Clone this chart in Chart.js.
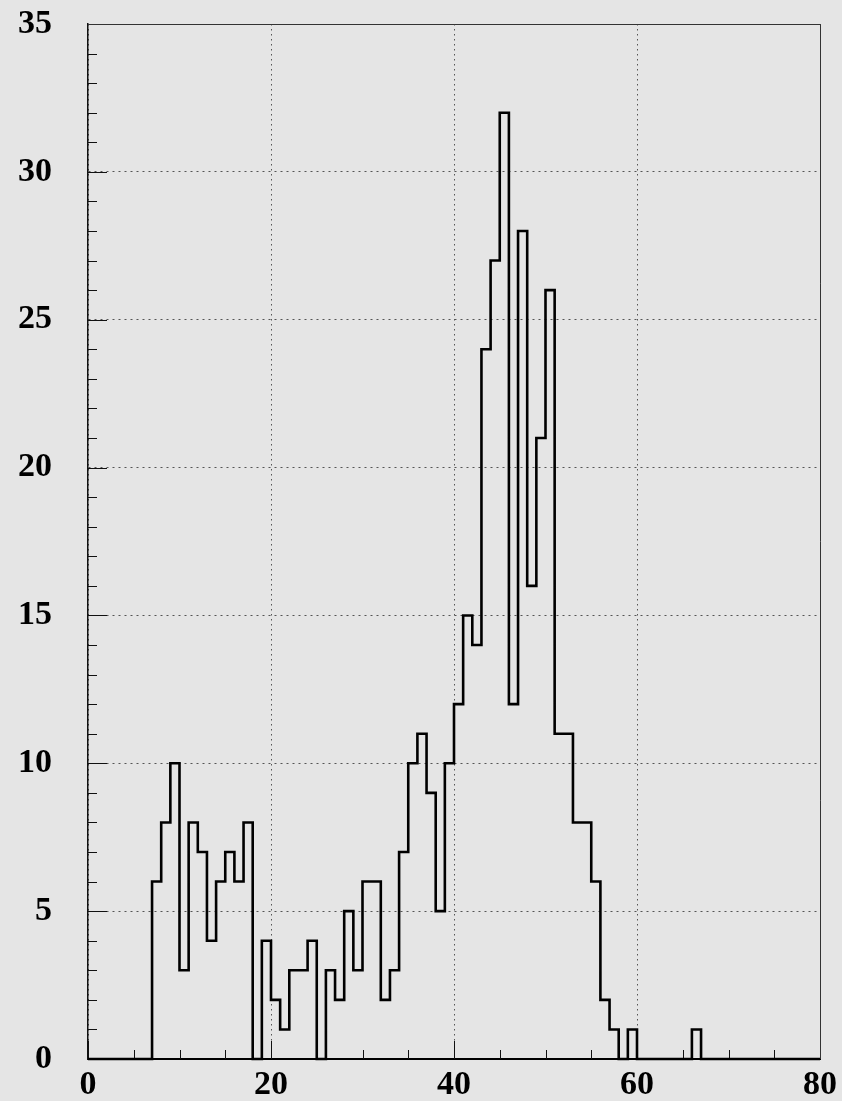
<!DOCTYPE html>
<html><head><meta charset="utf-8">
<script src="https://cdn.jsdelivr.net/npm/chart.js@4/dist/chart.umd.min.js"></script>
<style>html,body{margin:0;padding:0;background:#e5e5e5;}canvas{display:block;}</style>
</head><body>
<canvas id="c" width="842" height="1101"></canvas>
<script>
// Histogram: 80 bins of width 1 from 0 to 80
const xMin = 0, xMax = 80, binWidth = 1;
const counts0to9   = [0, 0, 0, 0, 0, 0, 0, 6, 8, 10];
const counts10to19 = [3, 8, 7, 4, 6, 7, 6, 8, 0, 4];
const counts20to29 = [2, 1, 3, 3, 4, 0, 3, 2, 5, 3];
const counts30to39 = [6, 6, 2, 3, 7, 10, 11, 9, 5, 10];
const counts40to49 = [12, 15, 14, 24, 27, 32, 12, 28, 16, 21];
const counts50to59 = [26, 11, 11, 8, 8, 6, 2, 1, 0, 1];
const counts60to69 = [0, 0, 0, 0, 0, 0, 1, 0, 0, 0];
const counts70to79 = [0, 0, 0, 0, 0, 0, 0, 0, 0, 0];
const counts = [].concat(counts0to9, counts10to19, counts20to29, counts30to39,
                         counts40to49, counts50to59, counts60to69, counts70to79);
const xTickLabels = [0, 20, 40, 60, 80];
const yTickLabels = [0, 5, 10, 15, 20, 25, 30, 35];
const yMin = 0, yMax = 35;

// point at each bin's low edge with its content, plus the closing edge
const points = counts.map((v, i) => ({x: xMin + i * binWidth, y: v}));
points.push({x: xMax, y: counts[counts.length - 1]});

const labelFont = {family: "'Liberation Serif','Times New Roman',serif", size: 34, weight: 'bold'};

const framePlugin = {
  id: 'frame',
  beforeDatasetsDraw(chart) {
    const {ctx, chartArea: a, scales: {x, y}} = chart;
    ctx.save();
    ctx.strokeStyle = '#111';
    ctx.lineWidth = 1;
    for (let v = yMin; v <= yMax; v += 1) {
      const py = Math.round(y.getPixelForValue(v)) + 0.5;
      const len = (v % 5 === 0) ? 19 : 9;
      ctx.beginPath(); ctx.moveTo(a.left, py); ctx.lineTo(a.left + len, py); ctx.stroke();
    }
    for (let v = xMin; v <= xMax; v += 5) {
      const px = Math.round(x.getPixelForValue(v)) + 0.5;
      const len = (v % 20 === 0) ? 18 : 9;
      ctx.beginPath(); ctx.moveTo(px, a.bottom); ctx.lineTo(px, a.bottom - len); ctx.stroke();
    }
    ctx.strokeStyle = '#333';
    ctx.beginPath();
    ctx.moveTo(a.left, a.top + 0.5); ctx.lineTo(a.right + 0.5, a.top + 0.5); ctx.lineTo(a.right + 0.5, a.bottom);
    ctx.stroke();
    ctx.restore();
  }
};

new Chart(document.getElementById('c'), {
  type: 'line',
  data: {datasets: [{
    data: points, stepped: 'before', borderColor: '#000', borderWidth: 2.6,
    pointRadius: 0, fill: false, clip: false, tension: 0
  }]},
  options: {
    responsive: false, animation: false, devicePixelRatio: 1,
    layout: {padding: {top: 24, right: 22, left: 0, bottom: 0}},
    plugins: {legend: {display: false}, tooltip: {enabled: false}},
    scales: {
      x: {
        type: 'linear', min: xMin, max: xMax,
        afterBuildTicks: s => { s.ticks = xTickLabels.map(v => ({value: v})); },
        afterFit: s => { s.height = 42; s.paddingLeft = 0; s.paddingRight = 0; },
        ticks: {font: labelFont, color: '#000', padding: 6, maxRotation: 0, autoSkip: false},
        grid: {color: '#555', lineWidth: 1, drawTicks: false},
        border: {display: true, color: '#000', width: 2, dash: [1.5, 3.5]}
      },
      y: {
        type: 'linear', min: yMin, max: yMax,
        afterBuildTicks: s => { s.ticks = yTickLabels.map(v => ({value: v})); },
        afterFit: s => { s.width = 88; s.paddingTop = 0; s.paddingBottom = 0; },
        ticks: {font: labelFont, color: '#000', padding: 36, autoSkip: false},
        grid: {color: '#555', lineWidth: 1, drawTicks: false},
        border: {display: true, color: '#111', width: 1.5, dash: [2, 4]}
      }
    }
  },
  plugins: [framePlugin]
});
</script>
</body></html>
